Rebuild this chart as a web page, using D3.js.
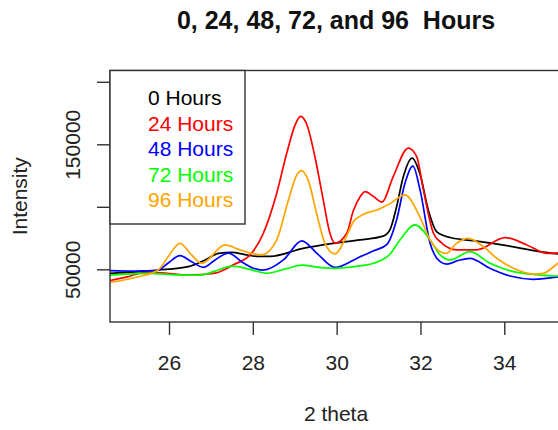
<!DOCTYPE html>
<html>
<head>
<meta charset="utf-8">
<script src="https://cdn.jsdelivr.net/npm/d3@7"></script>
<style>
  body { margin: 0; background: #fff; }
  text { font-family: "Liberation Sans", Arial, sans-serif; }
</style>
</head>
<body>
<div id="chart"></div>
<script>
    // values (2 theta, intensity)
    var theta0 = [24.59, 25.2, 25.74, 26.46, 26.86, 27.18, 27.5, 27.81, 28.12, 28.41, 29.2, 29.92, 30.56, 31.11, 31.27, 31.43, 31.59, 31.8, 31.99, 32.19, 32.39, 32.71, 33.26, 34.06, 34.85, 35.4];
    var int0 = [46800, 48000, 49400, 52100, 57500, 62800, 63600, 61800, 60300, 60300, 66800, 70800, 73500, 76500, 81500, 100000, 124000, 139000, 126000, 97000, 80000, 75400, 72900, 68900, 64100, 61800];

    var theta24 = [24.59, 25.0, 25.43, 25.95, 26.46, 27.1, 27.53, 27.97, 28.25, 28.57, 28.81, 29.01, 29.14, 29.29, 29.48, 29.68, 29.84, 29.96, 30.24, 30.4, 30.56, 30.68, 30.88, 31.08, 31.35, 31.71, 31.91, 32.07, 32.31, 32.47, 32.87, 33.34, 34.02, 34.54, 35.01, 35.4];
    var int24 = [41000, 44000, 47500, 46800, 45500, 47000, 53500, 62800, 78800, 110900, 143000, 165600, 172300, 165600, 140200, 105500, 78800, 70800, 78800, 97000, 108000, 112200, 108200, 103800, 124200, 147000, 140200, 113500, 78800, 72100, 65500, 65500, 75300, 69500, 62800, 63500];

    var theta48 = [24.59, 25.2, 25.71, 25.98, 26.26, 26.54, 26.82, 27.1, 27.42, 27.73, 28.0, 28.25, 28.73, 29.17, 29.53, 29.96, 30.56, 30.9, 31.2, 31.43, 31.63, 31.82, 31.99, 32.23, 32.47, 32.63, 32.9, 33.18, 33.66, 34.14, 34.69, 35.4];
    var int48 = [49000, 48600, 48900, 55000, 60900, 56100, 51600, 57500, 63000, 56100, 51000, 49400, 57500, 72800, 62800, 51500, 60100, 65000, 70000, 89500, 118900, 132500, 113500, 70800, 56100, 54200, 57000, 58800, 50800, 44600, 42000, 44500];

    var theta72 = [24.59, 25.5, 26.2, 26.74, 27.1, 27.5, 27.8, 28.13, 28.33, 28.8, 29.17, 29.6, 29.96, 30.5, 30.88, 31.27, 31.51, 31.87, 32.23, 32.47, 32.71, 33.18, 33.66, 34.22, 34.8, 35.4];
    var int72 = [45400, 46800, 45600, 45400, 48500, 52500, 51000, 48100, 46800, 50500, 53400, 51500, 50800, 52500, 54800, 62000, 73500, 85500, 73500, 61500, 57500, 64100, 54800, 48100, 45600, 44500];

    var theta96 = [24.59, 25.27, 25.74, 25.98, 26.26, 26.54, 26.78, 27.34, 27.69, 28.21, 28.57, 28.85, 29.05, 29.15, 29.32, 29.52, 29.72, 29.96, 30.24, 30.4, 30.64, 30.96, 31.27, 31.63, 31.99, 32.23, 32.47, 32.62, 32.85, 33.14, 33.5, 33.82, 34.22, 34.69, 34.93, 35.28, 35.4];
    var int96 = [39500, 44000, 49400, 60100, 70800, 61500, 54800, 69500, 65500, 61500, 73500, 105500, 125500, 129000, 121500, 94900, 70800, 62300, 77000, 88000, 94000, 97500, 102500, 109500, 91600, 73500, 64100, 62800, 70500, 74800, 68100, 58800, 50800, 46200, 46800, 54800, 57500];

    var seriesNames = ["0 Hours", "24 Hours", "48 Hours", "72 Hours", "96 Hours"];
    var seriesColors = ["black", "red", "blue", "#00ff00", "orange"];
    var seriesTheta = [theta0, theta24, theta48, theta72, theta96];
    var seriesInt = [int0, int24, int48, int72, int96];

    var xTicks = [26, 28, 30, 32, 34];
    var yTicks = [50000, 100000, 150000, 200000];
    var yLabelled = [50000, 150000];

    var width = 558;
    var height = 430;
    var plotLeft = 110, plotRight = 563, plotTop = 70.5, plotBottom = 322;

    var svg = d3.select("#chart")
        .append("svg")
        .attr("width", width)
        .attr("height", height);

    var x = d3.scaleLinear()
        .domain([24.592, 24.592 + (plotRight - plotLeft) / 41.91])
        .range([plotLeft, plotRight]);

    var y = d3.scaleLinear()
        .domain([7840, 209040])
        .range([plotBottom, plotTop]);

    svg.append("clipPath").attr("id", "plotClip")
        .append("rect")
        .attr("x", plotLeft).attr("y", plotTop)
        .attr("width", plotRight - plotLeft).attr("height", plotBottom - plotTop);

    var line = d3.line()
        .x(function (d) { return x(d[0]); })
        .y(function (d) { return y(d[1]); })
        .curve(d3.curveMonotoneX);

    var lines = svg.append("g").attr("clip-path", "url(#plotClip)");
    seriesNames.forEach(function (name, i) {
        var pts = seriesTheta[i].map(function (t, j) { return [t, seriesInt[i][j]]; });
        lines.append("path")
            .datum(pts)
            .attr("fill", "none")
            .attr("stroke", seriesColors[i])
            .attr("stroke-width", 1.7)
            .attr("d", line);
    });

    // plot box
    svg.append("rect")
        .attr("x", plotLeft).attr("y", plotTop)
        .attr("width", plotRight - plotLeft).attr("height", plotBottom - plotTop)
        .attr("fill", "none")
        .attr("stroke", "#333")
        .attr("stroke-width", 1.4);

    // x axis
    var xAxis = svg.append("g")
        .attr("transform", "translate(0," + plotBottom + ")")
        .call(d3.axisBottom(x).tickValues(xTicks).tickSize(13).tickFormat(d3.format("d")));
    xAxis.select(".domain").remove();
    xAxis.selectAll("line").attr("stroke", "#333").attr("stroke-width", 1.4);
    xAxis.selectAll("text")
        .attr("y", 48).attr("dy", 0)
        .attr("fill", "#222")
        .style("font-size", "21px")
        .style("font-family", "'Liberation Sans', Arial, sans-serif");

    // y axis, only some ticks get a label
    var yAxis = svg.append("g")
        .attr("transform", "translate(" + plotLeft + ",0)")
        .call(d3.axisLeft(y).tickValues(yTicks).tickSize(13)
            .tickFormat(function (d) { return yLabelled.indexOf(d) >= 0 ? d3.format("d")(d) : ""; }));
    yAxis.select(".domain").remove();
    yAxis.selectAll("line").attr("stroke", "#333").attr("stroke-width", 1.4);
    yAxis.selectAll("text")
        .attr("x", 0).attr("y", -30).attr("dy", 0)
        .attr("transform", "rotate(-90)")
        .attr("text-anchor", "middle")
        .attr("fill", "#222")
        .style("font-size", "21px")
        .style("font-family", "'Liberation Sans', Arial, sans-serif");

    // titles
    svg.append("text")
        .attr("x", 336).attr("y", 29)
        .attr("text-anchor", "middle")
        .style("font-size", "25px")
        .style("font-weight", "bold")
        .style("white-space", "pre")
        .attr("fill", "#111")
        .text("0, 24, 48, 72, and 96  Hours");

    svg.append("text")
        .attr("x", 336).attr("y", 421)
        .attr("text-anchor", "middle")
        .style("font-size", "21px")
        .attr("fill", "#222")
        .text("2 theta");

    svg.append("text")
        .attr("transform", "translate(27," + ((plotTop + plotBottom) / 2) + ") rotate(-90)")
        .attr("text-anchor", "middle")
        .style("font-size", "21px")
        .attr("fill", "#222")
        .text("Intensity");

    // legend
    var legend = svg.append("g");
    legend.append("rect")
        .attr("x", plotLeft).attr("y", plotTop)
        .attr("width", 135).attr("height", 153.5)
        .attr("fill", "white")
        .attr("stroke", "#333")
        .attr("stroke-width", 1.4);
    seriesNames.forEach(function (name, i) {
        legend.append("text")
            .attr("x", 148)
            .attr("y", 105 + i * 25.6)
            .attr("fill", seriesColors[i])
            .style("font-size", "21px")
            .text(name);
    });
</script>
</body>
</html>
